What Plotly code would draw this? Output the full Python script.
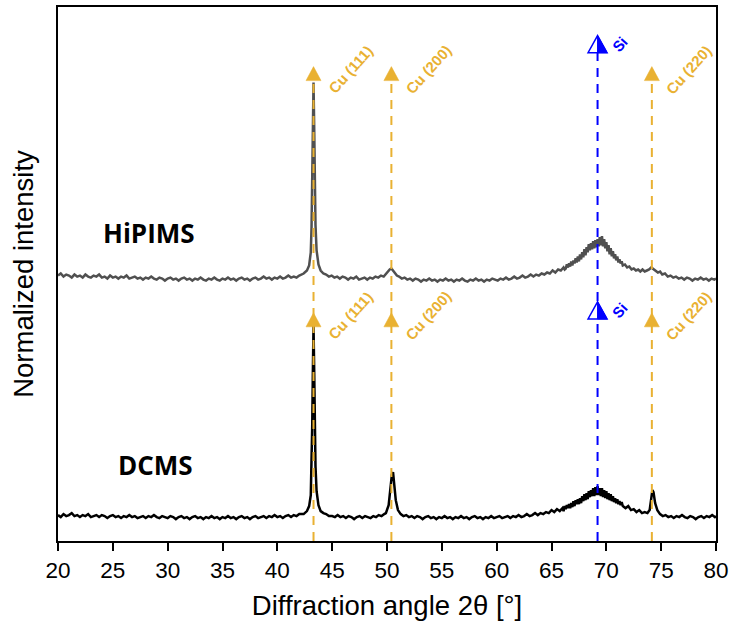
import plotly.graph_objects as go

# --- XRD scans: (2theta [deg], counts [a.u.]) ---
scan_dcms = [
    (20.0, 26), (20.25, 24), (20.5, 27), (20.75, 25), (21.0, 26), (21.25, 28), (21.5, 25), (21.75, 26),
    (22.0, 24), (22.25, 26), (22.5, 25), (22.75, 27), (23.0, 24), (23.25, 25), (23.5, 26), (23.75, 24),
    (24.0, 26), (24.25, 25), (24.5, 23), (24.75, 25), (25.0, 26), (25.25, 24), (25.5, 25), (25.75, 23),
    (26.0, 25), (26.25, 24), (26.5, 26), (26.75, 24), (27.0, 25), (27.25, 23), (27.5, 24), (27.75, 25),
    (28.0, 23), (28.25, 25), (28.5, 24), (28.75, 26), (29.0, 24), (29.25, 23), (29.5, 25), (29.75, 24),
    (30.0, 23), (30.25, 25), (30.5, 24), (30.75, 22), (31.0, 24), (31.25, 25), (31.5, 23), (31.75, 24),
    (32.0, 22), (32.25, 24), (32.5, 25), (32.75, 23), (33.0, 24), (33.25, 22), (33.5, 24), (33.75, 23),
    (34.0, 25), (34.25, 23), (34.5, 24), (34.75, 22), (35.0, 24), (35.25, 23), (35.5, 25), (35.75, 23),
    (36.0, 24), (36.25, 22), (36.5, 24), (36.75, 25), (37.0, 23), (37.25, 24), (37.5, 22), (37.75, 24),
    (38.0, 25), (38.25, 23), (38.5, 24), (38.75, 25), (39.0, 23), (39.25, 25), (39.5, 24), (39.75, 26),
    (40.0, 24), (40.25, 25), (40.5, 23), (40.75, 25), (41.0, 26), (41.25, 24), (41.5, 26), (41.75, 25),
    (42.0, 27), (42.4, 27), (42.7, 30), (42.9, 35), (43.05, 46), (43.12, 72), (43.18, 115), (43.24, 170),
    (43.3, 216), (43.36, 172), (43.42, 118), (43.48, 75), (43.58, 50), (43.75, 36), (43.95, 30), (44.2, 28),
    (44.45, 27), (44.7, 25), (45.0, 25), (45.25, 24), (45.5, 26), (45.75, 24), (46.0, 25), (46.25, 23),
    (46.5, 25), (46.75, 24), (47.0, 22), (47.25, 24), (47.5, 25), (47.75, 23), (48.0, 25), (48.25, 24),
    (48.5, 23), (48.75, 25), (49.0, 24), (49.25, 26), (49.5, 25), (49.75, 27), (49.9, 28), (50.15, 36),
    (50.3, 49), (50.45, 67), (50.55, 69), (50.65, 57), (50.8, 41), (51.0, 31), (51.25, 27), (51.5, 25),
    (51.75, 26), (52.0, 24), (52.25, 25), (52.5, 23), (52.75, 25), (53.0, 24), (53.25, 22), (53.5, 24),
    (53.75, 25), (54.0, 23), (54.25, 24), (54.5, 22), (54.75, 24), (55.0, 23), (55.25, 25), (55.5, 23),
    (55.75, 24), (56.0, 22), (56.25, 24), (56.5, 23), (56.75, 25), (57.0, 23), (57.25, 24), (57.5, 22),
    (57.75, 24), (58.0, 25), (58.25, 23), (58.5, 24), (58.75, 22), (59.0, 24), (59.25, 23), (59.5, 25),
    (59.75, 23), (60.0, 24), (60.25, 25), (60.5, 23), (60.75, 24), (61.0, 25), (61.25, 23), (61.5, 25),
    (61.75, 24), (62.0, 26), (62.25, 24), (62.5, 25), (62.75, 27), (63.0, 25), (63.25, 26), (63.5, 28),
    (63.75, 26), (64.0, 28), (64.25, 27), (64.5, 29), (64.75, 28), (65.0, 31), (65.25, 29), (65.5, 32),
    (65.75, 30), (66.0, 33), (66.1, 30), (66.2, 35), (66.3, 32), (66.4, 36), (66.5, 33), (66.6, 37),
    (66.7, 33), (66.8, 38), (66.9, 34), (67.0, 40), (67.1, 35), (67.2, 41), (67.3, 37), (67.4, 42),
    (67.5, 37), (67.6, 43), (67.7, 38), (67.8, 45), (67.9, 40), (68.0, 47), (68.1, 41), (68.2, 48),
    (68.3, 42), (68.4, 50), (68.5, 44), (68.6, 51), (68.7, 45), (68.8, 53), (68.9, 45), (69.0, 54),
    (69.1, 46), (69.2, 55), (69.3, 46), (69.4, 53), (69.5, 45), (69.6, 53), (69.7, 44), (69.8, 51),
    (69.9, 43), (70.0, 50), (70.1, 42), (70.2, 48), (70.3, 41), (70.4, 47), (70.5, 40), (70.6, 45),
    (70.7, 39), (70.8, 43), (70.9, 38), (71.0, 42), (71.1, 37), (71.2, 40), (71.3, 36), (71.4, 39),
    (71.5, 35), (71.75, 33), (72.0, 35), (72.25, 31), (72.5, 32), (72.75, 29), (73.0, 31), (73.25, 28),
    (73.5, 29), (73.75, 28), (73.95, 31), (74.1, 46), (74.2, 51), (74.3, 49), (74.45, 38), (74.65, 31),
    (74.9, 27), (75.15, 25), (75.4, 26), (75.65, 24), (75.9, 25), (76.15, 23), (76.4, 25), (76.65, 24),
    (76.9, 26), (77.15, 24), (77.4, 23), (77.65, 25), (77.9, 24), (78.15, 22), (78.4, 24), (78.65, 25),
    (78.9, 23), (79.15, 25), (79.4, 24), (79.65, 26), (79.9, 24), (80.0, 25),
]

scan_hipims = [
    (20.0, 22), (20.25, 24), (20.5, 21), (20.75, 23), (21.0, 22), (21.25, 20), (21.5, 23), (21.75, 21),
    (22.0, 22), (22.25, 20), (22.5, 23), (22.75, 21), (23.0, 20), (23.25, 22), (23.5, 21), (23.75, 23),
    (24.0, 20), (24.25, 21), (24.5, 19), (24.75, 22), (25.0, 20), (25.25, 21), (25.5, 19), (25.75, 21),
    (26.0, 20), (26.25, 22), (26.5, 19), (26.75, 20), (27.0, 21), (27.25, 19), (27.5, 20), (27.75, 18),
    (28.0, 20), (28.25, 19), (28.5, 21), (28.75, 19), (29.0, 18), (29.25, 20), (29.5, 19), (29.75, 17),
    (30.0, 19), (30.25, 20), (30.5, 18), (30.75, 19), (31.0, 17), (31.25, 19), (31.5, 20), (31.75, 18),
    (32.0, 19), (32.25, 17), (32.5, 19), (32.75, 18), (33.0, 20), (33.25, 18), (33.5, 17), (33.75, 19),
    (34.0, 18), (34.25, 20), (34.5, 18), (34.75, 17), (35.0, 19), (35.25, 18), (35.5, 20), (35.75, 18),
    (36.0, 19), (36.25, 17), (36.5, 19), (36.75, 20), (37.0, 18), (37.25, 19), (37.5, 17), (37.75, 19),
    (38.0, 20), (38.25, 18), (38.5, 19), (38.75, 21), (39.0, 19), (39.25, 20), (39.5, 18), (39.75, 20),
    (40.0, 19), (40.25, 21), (40.5, 19), (40.75, 20), (41.0, 22), (41.25, 20), (41.5, 21), (41.75, 20),
    (42.0, 22), (42.4, 24), (42.7, 27), (42.9, 32), (43.05, 45), (43.12, 70), (43.18, 110), (43.24, 165),
    (43.3, 213), (43.36, 170), (43.42, 115), (43.48, 72), (43.58, 47), (43.75, 33), (43.95, 27), (44.2, 24),
    (44.45, 23), (44.7, 21), (44.95, 22), (45.2, 20), (45.45, 21), (45.7, 19), (45.95, 21), (46.2, 20),
    (46.45, 18), (46.7, 20), (46.95, 19), (47.2, 21), (47.45, 18), (47.7, 19), (47.95, 20), (48.2, 18),
    (48.45, 20), (48.7, 19), (48.95, 21), (49.2, 20), (49.45, 22), (49.7, 21), (49.9, 24), (50.1, 26),
    (50.25, 28), (50.4, 29), (50.55, 27), (50.7, 25), (50.9, 22), (51.1, 21), (51.35, 19), (51.6, 20),
    (51.85, 18), (52.1, 19), (52.35, 17), (52.6, 19), (52.85, 18), (53.1, 16), (53.35, 18), (53.6, 17),
    (53.85, 19), (54.1, 17), (54.35, 18), (54.6, 16), (54.85, 18), (55.1, 17), (55.35, 19), (55.6, 17),
    (55.85, 18), (56.1, 16), (56.35, 18), (56.6, 17), (56.85, 19), (57.1, 17), (57.35, 16), (57.6, 18),
    (57.85, 17), (58.1, 19), (58.35, 17), (58.6, 18), (58.85, 16), (59.1, 18), (59.35, 17), (59.6, 19),
    (59.85, 18), (60.1, 17), (60.35, 19), (60.6, 18), (60.85, 20), (61.1, 18), (61.35, 19), (61.6, 21),
    (61.85, 19), (62.1, 20), (62.35, 22), (62.6, 20), (62.85, 21), (63.1, 23), (63.35, 21), (63.6, 23),
    (63.85, 22), (64.1, 24), (64.35, 23), (64.6, 25), (64.85, 24), (65.1, 27), (65.35, 25), (65.6, 28),
    (65.85, 27), (66.1, 30), (66.2, 28), (66.3, 29), (66.4, 33), (66.5, 30), (66.6, 34), (66.7, 31),
    (66.8, 36), (66.9, 32), (67.0, 37), (67.1, 34), (67.2, 39), (67.3, 35), (67.4, 41), (67.5, 36),
    (67.6, 43), (67.7, 38), (67.8, 45), (67.9, 40), (68.0, 48), (68.1, 42), (68.2, 50), (68.3, 45),
    (68.4, 53), (68.5, 47), (68.6, 54), (68.7, 48), (68.8, 56), (68.9, 49), (69.0, 57), (69.1, 50),
    (69.2, 58), (69.3, 51), (69.4, 60), (69.5, 52), (69.6, 61), (69.7, 51), (69.8, 58), (69.9, 49),
    (70.0, 55), (70.1, 46), (70.2, 52), (70.3, 43), (70.4, 49), (70.5, 41), (70.6, 46), (70.7, 39),
    (70.8, 43), (70.9, 37), (71.0, 41), (71.1, 35), (71.2, 38), (71.3, 34), (71.4, 36), (71.5, 32),
    (71.7, 33), (71.9, 30), (72.1, 31), (72.3, 28), (72.5, 29), (72.7, 27), (72.9, 28), (73.1, 26),
    (73.3, 28), (73.5, 26), (73.7, 27), (73.9, 28), (74.1, 30), (74.3, 28), (74.5, 27), (74.7, 25),
    (74.9, 26), (75.1, 23), (75.35, 24), (75.6, 21), (75.85, 22), (76.1, 20), (76.35, 21), (76.6, 19),
    (76.85, 20), (77.1, 18), (77.35, 20), (77.6, 19), (77.85, 17), (78.1, 19), (78.35, 18), (78.6, 20),
    (78.85, 18), (79.1, 19), (79.35, 17), (79.6, 19), (79.85, 18), (80.0, 19),
]

# --- reference reflections ---
ref_labels = ["Cu (111)", "Cu (200)", "Si", "Cu (220)"]
ref_angles = [43.3, 50.4, 69.2, 74.15]
ref_phase = ["Cu", "Cu", "Si", "Cu"]

HIPIMS_OFFSET = 1.13
Y_TOP = 2.481
MARK_LEVELS = {"Cu": (2.139, 0.995), "Si": (2.269, 1.032)}

CU_COLOR = "#E9B132"
SI_COLOR = "#0000FF"
FONT = "Liberation Sans, Arial, sans-serif"


def normalize(values):
    peak = max(values)
    return [v / peak for v in values]


angle_dcms, counts_dcms = zip(*scan_dcms)
angle_hipims, counts_hipims = zip(*scan_hipims)
dcms_y = normalize(counts_dcms)
hipims_y = [v + HIPIMS_OFFSET for v in normalize(counts_hipims)]

fig = go.Figure()
fig.add_trace(go.Scatter(x=angle_hipims, y=hipims_y, mode="lines",
                         line=dict(color="#505050", width=2.5), name="HiPIMS"))
fig.add_trace(go.Scatter(x=angle_dcms, y=dcms_y, mode="lines",
                         line=dict(color="#000000", width=2.5), name="DCMS"))

shapes = []
annotations = []
for label, angle, phase in zip(ref_labels, ref_angles, ref_phase):
    color = CU_COLOR if phase == "Cu" else SI_COLOR
    top_level, low_level = MARK_LEVELS[phase]
    shapes.append(dict(type="line", xref="x", yref="y", x0=angle, x1=angle, y0=0, y1=top_level,
                       line=dict(color=color, width=2, dash="9px,7px"), layer="above"))
    for level in (top_level, low_level):
        if phase == "Cu":
            shapes.append(dict(type="path", xref="x", yref="y", xsizemode="pixel", ysizemode="pixel",
                               xanchor=angle, yanchor=level, path="M -7.5 0 L 7.5 0 L 0 14 Z",
                               fillcolor=color, line=dict(color=color, width=0.5), layer="above"))
        else:
            shapes.append(dict(type="path", xref="x", yref="y", xsizemode="pixel", ysizemode="pixel",
                               xanchor=angle, yanchor=level, path="M -9.5 0 L 9.5 0 L 0 17 Z",
                               fillcolor="white", line=dict(color=color, width=1.5), layer="above"))
            shapes.append(dict(type="path", xref="x", yref="y", xsizemode="pixel", ysizemode="pixel",
                               xanchor=angle, yanchor=level, path="M 0 0 L 9.5 0 L 0 17 Z",
                               fillcolor=color, line=dict(color=color, width=1), layer="above"))
        annotations.append(dict(x=angle, y=level, xref="x", yref="y", text=label, showarrow=False,
                                textangle=-48, xanchor="center", yanchor="middle",
                                xshift=37 if phase == "Cu" else 22,
                                yshift=11 if phase == "Cu" else 8,
                                font=dict(family=FONT, size=15, color=color, weight="bold")))

annotations.append(dict(x=28.3, y=1.43, xref="x", yref="y", text="HiPIMS", showarrow=False,
                        font=dict(family="Open Sans, sans-serif", size=26, color="#000000", weight="bold")))
annotations.append(dict(x=28.9, y=0.352, xref="x", yref="y", text="DCMS", showarrow=False,
                        font=dict(family="Open Sans, sans-serif", size=26, color="#000000", weight="bold")))

fig.update_layout(
    width=734, height=626,
    margin=dict(l=58, r=15, t=5, b=85),
    paper_bgcolor="white", plot_bgcolor="white",
    showlegend=False,
    shapes=shapes, annotations=annotations,
    font=dict(family=FONT, color="#000000"),
    xaxis=dict(range=[20, 80], dtick=5, tick0=20, ticks="outside", ticklen=8, tickwidth=2,
               tickcolor="#000000", showline=True, linecolor="#000000", linewidth=2, mirror=True,
               showgrid=False, zeroline=False, tickfont=dict(size=22.5, family=FONT),
               title=dict(text="Diffraction angle 2θ [°]", font=dict(size=27.5, family=FONT), standoff=14)),
    yaxis=dict(range=[0, Y_TOP], showticklabels=False, ticks="", showline=True, linecolor="#000000",
               linewidth=2, mirror=True, showgrid=False, zeroline=False,
               title=dict(text="Normalized intensity", font=dict(size=27.5, family=FONT), standoff=14)),
)

fig.write_html("out.html")
